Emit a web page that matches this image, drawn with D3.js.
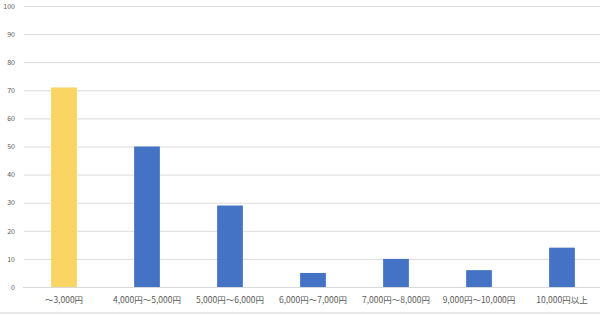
<!DOCTYPE html>
<html><head><meta charset="utf-8">
<script src="https://cdn.jsdelivr.net/npm/d3@7"></script>
<style>body{margin:0;background:#fff}svg{display:block}</style>
</head><body><svg id="c" width="600" height="315"></svg>
<script>
const categories = ["〜3,000円","4,000円〜5,000円","5,000円〜6,000円","6,000円〜7,000円","7,000円〜8,000円","9,000円〜10,000円","10,000円以上"];
const values = [71, 50, 29, 5, 10, 6, 14];
const highlight = [true, false, false, false, false, false, false];
const yTicks = [0,10,20,30,40,50,60,70,80,90,100];

const svg = d3.select("#c");
const font = "'Noto Sans CJK JP','Noto Sans',sans-serif";
const x = d3.scaleBand().domain(categories).range([22.5, 603.5]).paddingInner(0.69).paddingOuter(0.345);
const y = d3.scaleLinear().domain([0,100]).range([287, 6]);

const gy = svg.append("g").attr("transform","translate(24,0)")
  .call(d3.axisLeft(y).tickValues(yTicks).tickSize(-600).tickPadding(9));
gy.select(".domain").remove();
gy.selectAll(".tick line").attr("stroke","#dcdcdc").attr("stroke-width",1);
gy.selectAll(".tick text").attr("fill","#595959").style("font-family",font).style("font-size","7px");

svg.append("g").selectAll("rect").data(values).join("rect")
  .attr("x",(d,i)=>x(categories[i]))
  .attr("width",x.bandwidth())
  .attr("y",d=>y(d))
  .attr("height",d=>y(0)-y(d))
  .attr("fill",(d,i)=>highlight[i]?"#FAD564":"#4472C4");

const gx = svg.append("g").attr("transform","translate(0,287)")
  .call(d3.axisBottom(x).tickSize(0).tickPadding(10));
gx.select(".domain").attr("stroke","#d9d9d9");
gx.selectAll(".tick text").attr("fill","#595959").style("font-family",font).style("font-size","8.5px");

svg.append("line").attr("x1",0).attr("x2",600).attr("y1",313).attr("y2",313).attr("stroke","#d0d0d0");
</script></body></html>
